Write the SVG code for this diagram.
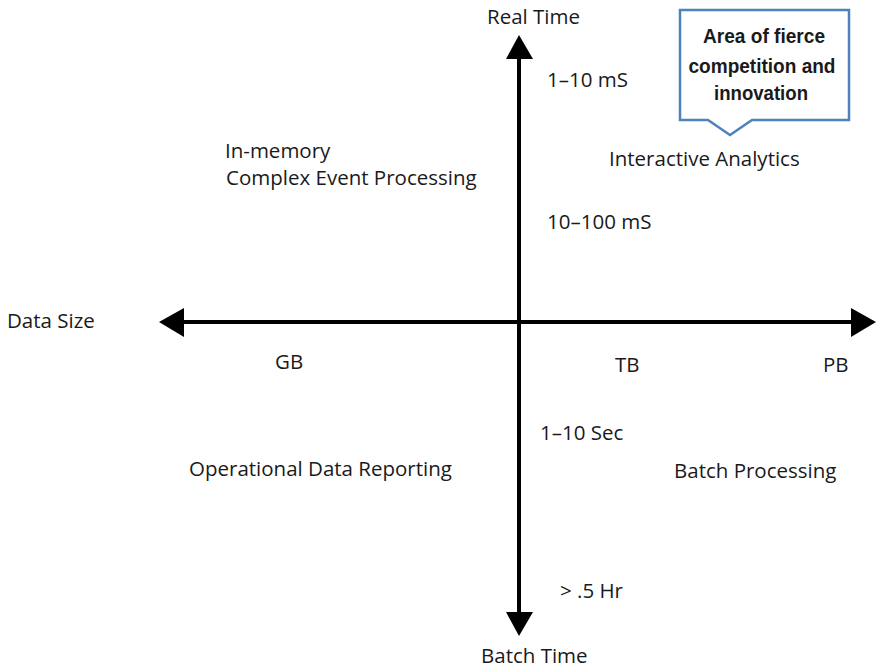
<svg xmlns="http://www.w3.org/2000/svg" width="876" height="671" viewBox="0 0 876 671">
  <defs>
    <style>
      .lbl { font-family: "Open Sans", "Noto Sans", "DejaVu Sans", sans-serif; font-size: 20.5px; fill: #1a1a1a; }
      .axis { stroke: #000; stroke-width: 4; fill: none; }
      .head { fill: #000; }
      .callout { fill: #fff; stroke: #4F81BD; stroke-width: 2.5; stroke-linejoin: miter; }
      .ctext { font-family: "Liberation Sans Narrow", "Liberation Sans", Arial, sans-serif; font-weight: bold; font-size: 21px; fill: #1a1a1a; text-anchor: middle; }
    </style>
  </defs>
  <rect width="876" height="671" fill="#fff"/>

  <!-- axes -->
  <g id="connectors">
    <line class="axis" x1="519" y1="55" x2="519" y2="616"/>
    <line class="axis" x1="180" y1="322" x2="856" y2="322"/>
    <polygon class="head" points="519,35 506,59 533,59"/>
    <polygon class="head" points="519,636 506,612 533,612"/>
    <polygon class="head" points="159,322 184,308 184,337"/>
    <polygon class="head" points="876,322 851,308 851,337"/>
  </g>

  <!-- axis labels -->
  <g id="axis-real-time"><text class="lbl" x="487" y="24">Real Time</text></g>
  <g id="axis-batch-time"><text class="lbl" x="481" y="663">Batch Time</text></g>
  <g id="axis-data-size"><text class="lbl" x="7" y="328">Data Size</text></g>

  <!-- scale marks -->
  <g id="tick-1-10ms"><text class="lbl" x="547" y="87">1–10 mS</text></g>
  <g id="tick-10-100ms"><text class="lbl" x="547" y="229">10–100 mS</text></g>
  <g id="tick-1-10sec"><text class="lbl" x="540" y="440">1–10 Sec</text></g>
  <g id="tick-half-hr"><text class="lbl" x="560" y="598">&gt; .5 Hr</text></g>
  <g id="tick-gb"><text class="lbl" x="275" y="369">GB</text></g>
  <g id="tick-tb"><text class="lbl" x="615" y="372">TB</text></g>
  <g id="tick-pb"><text class="lbl" x="823" y="372">PB</text></g>

  <!-- quadrant labels -->
  <g id="q-in-memory">
    <text class="lbl" x="225" y="158">In-memory</text>
    <text class="lbl" x="226" y="185">Complex Event Processing</text>
  </g>
  <g id="q-interactive"><text class="lbl" x="609" y="166">Interactive Analytics</text></g>
  <g id="q-operational"><text class="lbl" x="189" y="476">Operational Data Reporting</text></g>
  <g id="q-batch"><text class="lbl" x="674" y="478">Batch Processing</text></g>

  <!-- callout -->
  <g id="callout">
    <path class="callout" d="M680,10 H849 V120 H752 L730,135 L708,120 H680 Z"/>
    <text class="ctext" x="764" y="43" textLength="122" lengthAdjust="spacingAndGlyphs">Area of fierce</text>
    <text class="ctext" x="762" y="73" textLength="147" lengthAdjust="spacingAndGlyphs">competition and</text>
    <text class="ctext" x="761" y="100" textLength="94" lengthAdjust="spacingAndGlyphs">innovation</text>
  </g>
</svg>
